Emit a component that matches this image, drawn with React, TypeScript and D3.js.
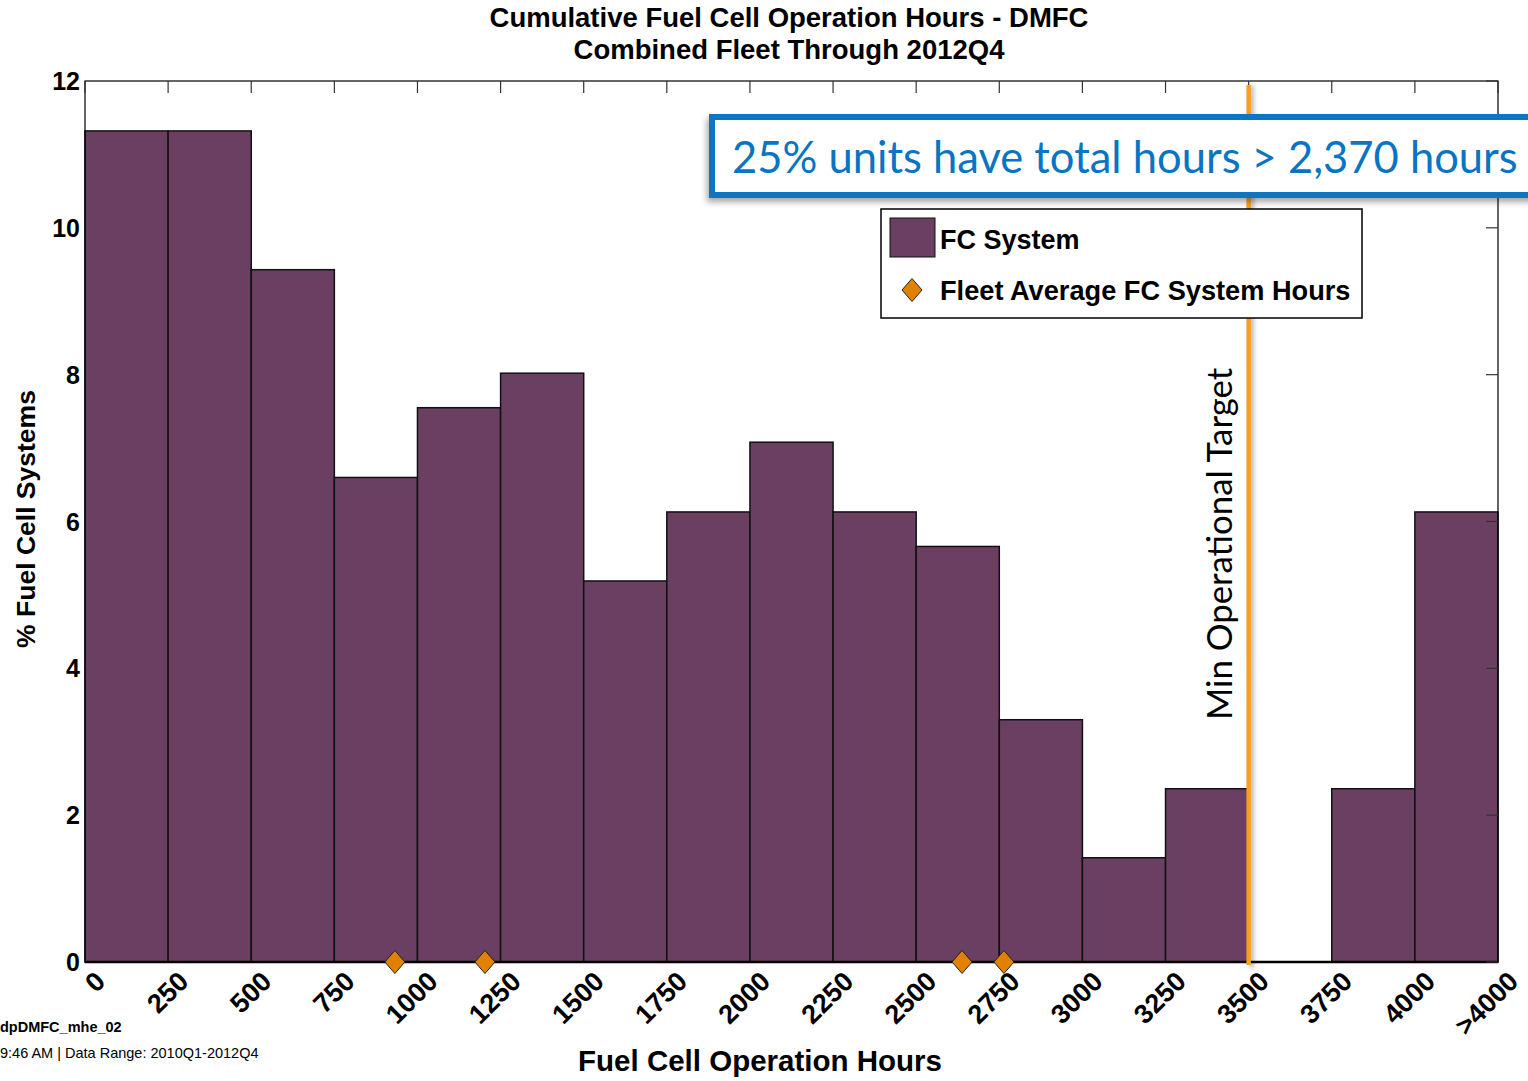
import React from "react";
import * as d3 from "d3";

const binStarts = [0, 250, 500, 750, 1000, 1250, 1500, 1750, 2000, 2250, 2500, 2750, 3000, 3250, 3500, 3750, 4000];
const binPercent = [11.32, 11.32, 9.43, 6.6, 7.55, 8.02, 5.19, 6.13, 7.08, 6.13, 5.66, 3.3, 1.42, 2.36, 0, 2.36, 6.13];
const tickValues = [0, 250, 500, 750, 1000, 1250, 1500, 1750, 2000, 2250, 2500, 2750, 3000, 3250, 3500, 3750, 4000, 4250];
const tickLabels = ["0", "250", "500", "750", "1000", "1250", "1500", "1750", "2000", "2250", "2500", "2750", "3000", "3250", "3500", "3750", "4000", ">4000"];
const fleetAverages = [932, 1203, 2638, 2764];
const yTicks = [0, 2, 4, 6, 8, 10, 12];
const targetHours = 3500;

const W = 1528;
const H = 1081;
const left = 85, right = 1498, top = 81, bottom = 962;
const BAR = "#6B3F62";
const ORANGE = "#F7A11C";
const DIAMOND = "#E08200";
const BLUE = "#0874C2";
const F = "'Liberation Sans', Arial, sans-serif";

export default function App() {
  React.useEffect(() => {
    document.body.style.margin = "0";
  }, []);
  const x = d3.scaleLinear().domain([0, 4250]).range([left, right]);
  const y = d3.scaleLinear().domain([0, 12]).range([bottom, top]);
  const binW = 250;
  const diamond = (cx: number, cy: number, r: number) =>
    `M${cx},${cy - r * 1.15} L${cx + r},${cy} L${cx},${cy + r * 1.15} L${cx - r},${cy} Z`;
  const tx = x(targetHours);

  return (
    <svg width={W} height={H} style={{ position: "absolute", left: 0, top: 0, background: "#fff" }} fontFamily={F}>
      <defs>
        <filter id="shadow" x="-5%" y="-20%" width="115%" height="150%">
          <feDropShadow dx="-2" dy="4" stdDeviation="3" floodColor="#000" floodOpacity="0.35" />
        </filter>
        <filter id="blur" filterUnits="userSpaceOnUse" x={0} y={0} width={W} height={H}>
          <feGaussianBlur stdDeviation="2" />
        </filter>
      </defs>
      <rect x={0} y={0} width={W} height={H} fill="#fff" />
      {/* title */}
      <text x={789} y={27} textAnchor="middle" fontWeight="bold" fontSize={27.5}>Cumulative Fuel Cell Operation Hours - DMFC</text>
      <text x={789} y={59} textAnchor="middle" fontWeight="bold" fontSize={27.5}>Combined Fleet Through 2012Q4</text>

      {/* bars */}
      {binStarts.map((s, i) =>
        binPercent[i] > 0 ? (
          <rect key={i} x={x(s)} y={y(binPercent[i])} width={x(s + binW) - x(s)} height={y(0) - y(binPercent[i])}
            fill={BAR} stroke="#111" strokeWidth={1.5} />
        ) : null
      )}

      {/* frame */}
      <rect x={left} y={top} width={right - left} height={bottom - top} fill="none" stroke="#000" strokeWidth={1.2} />
      <line x1={left} x2={right} y1={bottom} y2={bottom} stroke="#000" strokeWidth={2.5} />
      {tickValues.map((t, i) => (
        <line key={"tt" + i} x1={x(t)} x2={x(t)} y1={top} y2={top + 12} stroke="#333" strokeWidth={1.2} />
      ))}
      {yTicks.map((t, i) => (
        <line key={"yr" + i} x1={right} x2={right - 12} y1={y(t)} y2={y(t)} stroke="#333" strokeWidth={1.2} />
      ))}

      {/* y labels */}
      {yTicks.map((t, i) => (
        <text key={"yl" + i} x={80} y={y(t) + 9} textAnchor="end" fontWeight="bold" fontSize={25}>{t}</text>
      ))}
      <text transform={`translate(35,519) rotate(-90)`} textAnchor="middle" fontWeight="bold" fontSize={26.5}>% Fuel Cell Systems</text>

      {/* x labels */}
      {tickValues.map((t, i) => (
        <text key={"xl" + i} transform={`translate(${x(t) + 22},${bottom + 21}) rotate(-45)`} textAnchor="end"
          fontWeight="bold" fontSize={27}>{tickLabels[i]}</text>
      ))}
      <text x={760} y={1071} textAnchor="middle" fontWeight="bold" fontSize={29.5}>Fuel Cell Operation Hours</text>

      {/* target line */}
      <line x1={tx + 3} x2={tx + 3} y1={85} y2={bottom + 6} stroke="#000" strokeOpacity={0.3} strokeWidth={4} filter="url(#blur)" />
      <line x1={tx} x2={tx} y1={85} y2={bottom + 3} stroke={ORANGE} strokeWidth={4.5} />
      <text transform={`translate(1232,720) rotate(-90)`} fontFamily="Lato, 'Open Sans', sans-serif" fontSize={34.8} fill="#000">Min Operational Target</text>

      {/* diamonds */}
      {fleetAverages.map((v, i) => (
        <path key={"d" + i} d={diamond(x(v), bottom, 10)} fill={DIAMOND} stroke="#222" strokeWidth={1} />
      ))}

      {/* legend */}
      <rect x={881} y={209} width={481} height={109} fill="#fff" stroke="#000" strokeWidth={1.5} />
      <rect x={890} y={218} width={45} height={39} fill={BAR} stroke="#111" strokeWidth={1} />
      <text x={940} y={249} fontWeight="bold" fontSize={27}>FC System</text>
      <path d={diamond(912, 290, 10)} fill={DIAMOND} stroke="#222" strokeWidth={1} />
      <text x={940} y={300} fontWeight="bold" fontSize={27.2}>Fleet Average FC System Hours</text>

      {/* annotation box */}
      <rect x={712} y={117} width={840} height={78} fill="#fff" stroke={BLUE} strokeWidth={6} filter="url(#shadow)" />
      <text x={732} y={173} fontFamily="Lato, 'Open Sans', sans-serif" fontSize={43.5} fill={BLUE}>25% units have total hours &gt; 2,370 hours</text>

      {/* footer */}
      <text x={0} y={1032} fontWeight="bold" fontSize={14.5}>dpDMFC_mhe_02</text>
      <text x={0} y={1058} fontSize={14.5}>9:46 AM | Data Range: 2010Q1-2012Q4</text>
    </svg>
  );
}
